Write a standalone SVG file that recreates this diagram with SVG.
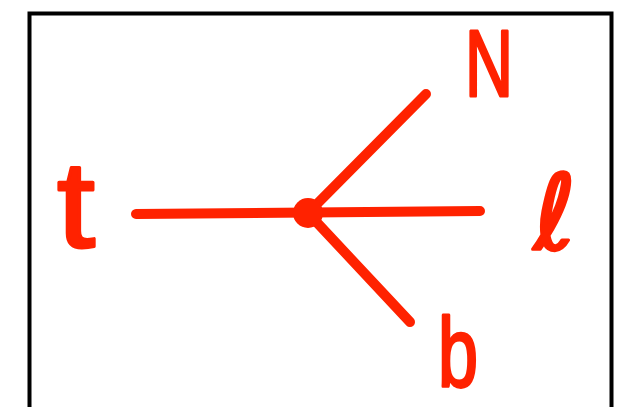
<svg xmlns="http://www.w3.org/2000/svg" width="618" height="407" viewBox="0 0 618 407">
<style>
.lbl{fill:#ff2200;stroke:#ff2200;stroke-width:3;stroke-linejoin:round;font-family:"Liberation Sans","DejaVu Sans",sans-serif;text-anchor:middle}
.edge{stroke:#ff2200;stroke-width:10;stroke-linecap:round;fill:none}
</style>
<rect width="618" height="407" fill="#fff"/>
<rect x="29.5" y="13.5" width="582" height="420" fill="none" stroke="#000" stroke-width="4"/>
<g id="connectors">
<line class="edge" x1="136" y1="214" x2="480" y2="211"/>
<line class="edge" x1="308" y1="213" x2="426" y2="94"/>
<line class="edge" x1="308" y1="213" x2="410" y2="322"/>
</g>
<g id="vertex"><circle cx="308" cy="213" r="15" fill="#ff2200"/></g>
<g id="node-t"><text class="lbl" x="76" y="247" font-size="122" textLength="38" lengthAdjust="spacingAndGlyphs">t</text></g>
<g id="node-N"><text class="lbl" x="489" y="96" font-size="94" textLength="48" lengthAdjust="spacingAndGlyphs">N</text></g>
<g id="node-l"><text class="lbl" x="555" y="249" font-size="104" font-style="italic" style="font-family:'DejaVu Sans',sans-serif" textLength="42" lengthAdjust="spacingAndGlyphs">ℓ</text></g>
<g id="node-b"><text class="lbl" x="458" y="386" font-size="98" textLength="40" lengthAdjust="spacingAndGlyphs">b</text></g>
</svg>
